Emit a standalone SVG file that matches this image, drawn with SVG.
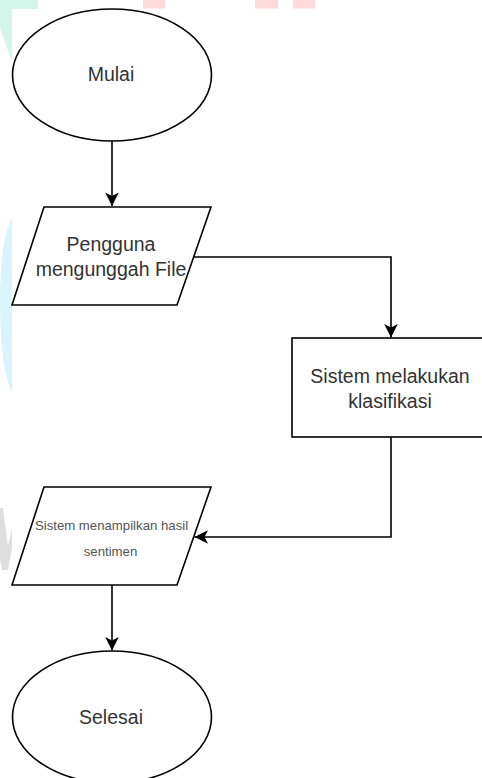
<svg xmlns="http://www.w3.org/2000/svg" width="482" height="778" viewBox="0 0 482 778">
<style>
.shape{fill:#ffffff;stroke:#000000;stroke-width:1.6}
.edge{fill:none;stroke:#000000;stroke-width:1.6}
.lbl{font-family:"Liberation Sans",Arial,Helvetica,sans-serif;font-size:19.5px;fill:#333333;text-anchor:middle}
.small{font-family:"Liberation Sans",Arial,Helvetica,sans-serif;font-size:13.2px;fill:#555555;text-anchor:middle}
.wm-green{fill:#d3f5ea}
.wm-pink{fill:#ffd9dc}
.wm-cyan{fill:#d9f4fd}
.wm-gray{fill:#dedede}
</style>
<defs>
<marker id="arr" markerUnits="userSpaceOnUse" markerWidth="16" markerHeight="16" viewBox="-15 -8 16 16" refX="0" refY="0" orient="auto">
<path d="M0,0 L-13.5,-6.8 L-10,0 L-13.5,6.8 Z" fill="#000000"/>
</marker>
</defs>
<rect x="0" y="0" width="482" height="778" fill="#ffffff"/>
<g id="watermark">
<polygon class="wm-green" points="0,0 38,0 38,9 12,9 12,62 0,28"/>
<rect class="wm-pink" x="143" y="0" width="22" height="8.5"/>
<rect class="wm-pink" x="255" y="0" width="23" height="8.5"/>
<rect class="wm-pink" x="293" y="0" width="22" height="8.5"/>
<path class="wm-cyan" d="M12,218 Q0,240 0,300 Q0,368 12,392 Z"/>
<polygon class="wm-gray" points="0,508 3,508 8,546 12,528 12,548 8,570 2,570 0,560"/>
</g>
<g id="connectors">
<path class="edge" d="M112,141 L112,206" marker-end="url(#arr)"/>
<path class="edge" d="M194,257 L391,257 L391,337.5" marker-end="url(#arr)"/>
<path class="edge" d="M391,437 L391,537 L194.5,537" marker-end="url(#arr)"/>
<path class="edge" d="M112,585 L112,650.5" marker-end="url(#arr)"/>
</g>
<g id="mulai">
<ellipse class="shape" cx="112" cy="75" rx="99.5" ry="66"/>
<text class="lbl" x="111" y="81">Mulai</text>
</g>
<g id="upload">
<polygon class="shape" points="44,207 211,207 177,305 12,305"/>
<text class="lbl" x="111" y="251">Pengguna</text>
<text class="lbl" x="111" y="275.5">mengunggah File</text>
</g>
<g id="klasifikasi">
<rect class="shape" x="292" y="338" width="197" height="99"/>
<text class="lbl" x="390" y="382.5">Sistem melakukan</text>
<text class="lbl" x="390" y="407.5">klasifikasi</text>
</g>
<g id="hasil">
<polygon class="shape" points="44,487 211,487 177,585 12,585"/>
<text class="small" x="111.5" y="530">Sistem menampilkan hasil</text>
<text class="small" x="110.5" y="556">sentimen</text>
</g>
<g id="selesai">
<ellipse class="shape" cx="112" cy="717" rx="99.5" ry="66"/>
<text class="lbl" x="111" y="723.5">Selesai</text>
</g>
</svg>
